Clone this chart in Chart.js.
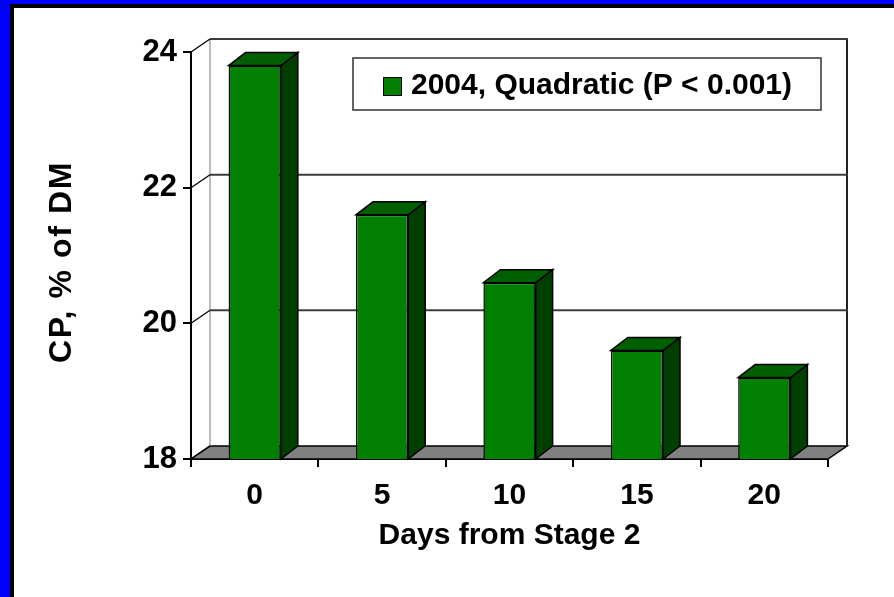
<!DOCTYPE html>
<html>
<head>
<meta charset="utf-8">
<script src="https://cdn.jsdelivr.net/npm/chart.js@4"></script>
<style>
  html, body { margin: 0; padding: 0; background: #ffffff; }
  #c { display: block; }
</style>
</head>
<body>
<canvas id="c" width="894" height="597"></canvas>
<script>
// Crude protein by days from stage 2
const categories = ['0', '5', '10', '15', '20'];
const cpValues = [23.8, 21.6, 20.6, 19.6, 19.2];
const seriesLabel = '2004, Quadratic (P < 0.001)';
const yTickValues = [18, 20, 22, 24];
const xAxisTitle = 'Days from Stage 2';
const yAxisTitle = 'CP, % of DM';

const FONT = '"Liberation Sans", Arial, Helvetica, sans-serif';
const FRONT = '#007f00';
const TOP = '#005f00';
const SIDE = '#003f00';

// depth of the walls and of the columns
const WALL_DX = 19, WALL_DY = -13;
const BAR_DX = 17, BAR_DY = -13;

function poly(ctx, pts, fill, stroke, lw) {
  ctx.beginPath();
  ctx.moveTo(pts[0][0], pts[0][1]);
  for (let i = 1; i < pts.length; i++) ctx.lineTo(pts[i][0], pts[i][1]);
  ctx.closePath();
  if (fill) { ctx.fillStyle = fill; ctx.fill(); }
  if (stroke) { ctx.strokeStyle = stroke; ctx.lineWidth = lw; ctx.stroke(); }
}
function line(ctx, x1, y1, x2, y2, color, lw) {
  ctx.beginPath();
  ctx.moveTo(x1, y1); ctx.lineTo(x2, y2);
  ctx.strokeStyle = color; ctx.lineWidth = lw; ctx.stroke();
}

// slide frame behind the chart
const framePlugin = {
  id: 'frame',
  beforeDraw(chart) {
    const ctx = chart.ctx, w = chart.width, h = chart.height;
    ctx.save();
    ctx.fillStyle = '#0000ff';
    ctx.fillRect(0, 0, w, h);
    ctx.fillStyle = '#000000';
    ctx.fillRect(10, 4, w - 10, h - 4);
    ctx.fillStyle = '#ffffff';
    ctx.fillRect(14, 8, w - 14, h - 8);
    ctx.restore();
  }
};

// back wall, side wall, floor and the depth faces of the columns
const depthPlugin = {
  id: 'depth3d',
  beforeDatasetsDraw(chart) {
    const ctx = chart.ctx;
    const { left, right, bottom } = chart.chartArea;
    const ys = chart.scales.y;
    ctx.save();
    ctx.lineCap = 'butt';
    // floor
    poly(ctx, [[left, bottom], [right, bottom], [right + WALL_DX, bottom + WALL_DY], [left + WALL_DX, bottom + WALL_DY]], '#808080', '#000', 1.5);
    // back wall edges
    line(ctx, left + WALL_DX, ys.getPixelForValue(ys.max) + WALL_DY, left + WALL_DX, bottom + WALL_DY, '#7a7a7a', 1);
    line(ctx, right + WALL_DX, ys.getPixelForValue(ys.max) + WALL_DY, right + WALL_DX, bottom + WALL_DY + 0.5, '#222', 2);
    // gridlines on back wall plus side-wall diagonals
    yTickValues.forEach(v => {
      const py = ys.getPixelForValue(v);
      if (v !== ys.min) {
        line(ctx, left + WALL_DX, py + WALL_DY, right + WALL_DX + 1, py + WALL_DY, '#3c3c3c', 2);
      }
      line(ctx, left, py, left + WALL_DX, py + WALL_DY, '#000', 1.3);
    });
    ctx.restore();
  },
  afterDatasetsDraw(chart) {
    const ctx = chart.ctx;
    const floorY = chart.chartArea.bottom;
    const meta = chart.getDatasetMeta(0);
    ctx.save();
    ctx.lineJoin = 'miter';
    meta.data.forEach(bar => {
      const p = bar.getProps(['x', 'y', 'base', 'width'], true);
      const l = p.x - p.width / 2, r = p.x + p.width / 2;
      const b = Math.min(p.base, floorY);
      poly(ctx, [[r, p.y], [r + BAR_DX, p.y + BAR_DY], [r + BAR_DX, b + BAR_DY], [r, b]], SIDE, '#000', 1.5);
      poly(ctx, [[l, p.y], [r, p.y], [r + BAR_DX, p.y + BAR_DY], [l + BAR_DX, p.y + BAR_DY]], TOP, '#000', 1.5);
    });
    ctx.restore();
  }
};

// vertical axis title and the boxed legend
const textPlugin = {
  id: 'chartText',
  afterDraw(chart) {
    const ctx = chart.ctx;
    const ds = chart.data.datasets[0];
    ctx.save();
    ctx.translate(62, 262);
    ctx.rotate(-Math.PI / 2);
    ctx.fillStyle = '#000';
    ctx.font = 'bold 32px ' + FONT;
    ctx.letterSpacing = '1.6px';
    ctx.textAlign = 'center';
    ctx.textBaseline = 'middle';
    ctx.fillText(yAxisTitle, 0, 0);
    ctx.restore();

    ctx.save();
    ctx.fillStyle = '#fff';
    ctx.fillRect(353, 58, 468, 52);
    ctx.strokeStyle = '#333';
    ctx.lineWidth = 1.5;
    ctx.strokeRect(353, 58, 468, 52);
    ctx.fillStyle = ds.backgroundColor;
    ctx.fillRect(383.5, 77.5, 18, 18);
    ctx.strokeStyle = '#000';
    ctx.lineWidth = 1;
    ctx.strokeRect(383.5, 77.5, 18, 18);
    ctx.fillStyle = '#000';
    ctx.font = 'bold 30px ' + FONT;
    ctx.textBaseline = 'middle';
    ctx.textAlign = 'left';
    ctx.fillText(ds.label, 411, 86);
    ctx.restore();
  }
};

new Chart(document.getElementById('c'), {
  type: 'bar',
  data: {
    labels: categories,
    datasets: [{
      label: seriesLabel,
      data: cpValues,
      backgroundColor: FRONT,
      borderColor: '#000',
      borderWidth: 1.5,
      borderSkipped: false,
      categoryPercentage: 1.0,
      barPercentage: 0.41
    }]
  },
  options: {
    responsive: false,
    animation: false,
    devicePixelRatio: 1,
    layout: { padding: { left: 0, top: 52, right: 66, bottom: 0 } },
    plugins: { legend: { display: false }, tooltip: { enabled: false } },
    scales: {
      x: {
        z: 1,
        afterFit(s) { s.height = 138; },
        ticks: { color: '#000', padding: 11, font: { family: FONT, size: 30, weight: 'bold' } },
        grid: { offset: true, drawOnChartArea: false, drawTicks: true, tickLength: 8, color: '#000', lineWidth: 2 },
        border: { display: true, color: '#000', width: 2 },
        title: { display: true, text: xAxisTitle, color: '#000', font: { family: FONT, size: 30, weight: 'bold' }, padding: { top: 0, bottom: 43 } }
      },
      y: {
        z: 1,
        min: 18,
        max: 24,
        afterFit(s) { s.width = 191; },
        afterBuildTicks(s) { s.ticks = yTickValues.map(v => ({ value: v })); },
        ticks: { color: '#000', padding: 6, font: { family: FONT, size: 31, weight: 'bold' } },
        grid: { drawOnChartArea: false, drawTicks: true, tickLength: 8, color: '#000', lineWidth: 2 },
        border: { display: true, color: '#000', width: 2 },
        title: { display: false }
      }
    }
  },
  plugins: [framePlugin, depthPlugin, textPlugin]
});
</script>
</body>
</html>
